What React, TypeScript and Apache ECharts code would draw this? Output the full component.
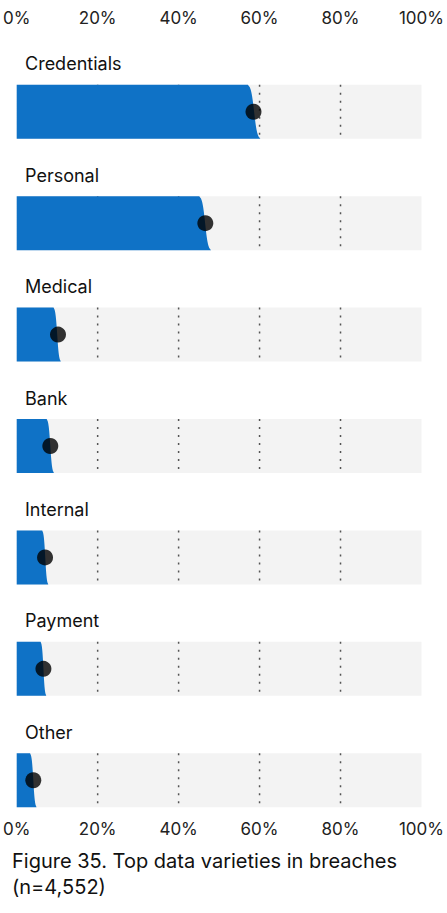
import { useEffect, useRef } from "react";
import * as echarts from "echarts";

const categories = ["Credentials", "Personal", "Medical", "Bank", "Internal", "Payment", "Other"];
const values = [58.5, 46.6, 10.2, 8.3, 7.0, 6.6, 4.1];
const lows = [57.1, 45.1, 9.1, 7.4, 6.3, 5.9, 3.3];
const highs = [60.2, 48.0, 10.9, 9.2, 7.8, 7.3, 4.9];
const gridTicks = [20, 40, 60, 80];

const BLUE = "#0f72c6";
const FONT = "Inter, 'Noto Sans', sans-serif";

// edge profile: quantile-like curve from top (t=0) to bottom (t=1)
const edge = (t: number) => Math.atanh((2 * t - 1) * 0.96) / Math.atanh(0.96);

export default function App() {
  const ref = useRef<HTMLDivElement>(null);

  useEffect(() => {
    document.body.style.margin = "0";
    if (!ref.current) return;
    const chart = echarts.init(ref.current, null, { renderer: "svg" });

    const bandH = 54;
    const renderItem = (params: any, api: any) => {
      const idx = api.value(0);
      const lo = api.value(1);
      const hi = api.value(2);
      const [x0, cy] = api.coord([0, idx]);
      const [x100] = api.coord([100, idx]);
      const top = cy - bandH / 2;
      const bottom = cy + bandH / 2;
      const children: any[] = [
        { type: "rect", shape: { x: x0, y: top, width: x100 - x0, height: bandH }, style: { fill: "#f3f3f3" } },
      ];
      gridTicks.forEach((g) => {
        const [gx] = api.coord([g, idx]);
        children.push({
          type: "line",
          shape: { x1: gx, y1: top, x2: gx, y2: bottom },
          style: { stroke: "#555", lineWidth: 1.5, lineDash: [2, 6] },
        });
      });
      const [xl] = api.coord([lo, idx]);
      const [xh] = api.coord([hi, idx]);
      const pts: number[][] = [[x0, bottom], [x0, top]];
      const n = 24;
      for (let i = 0; i <= n; i++) {
        const t = i / n;
        const x = (xl + xh) / 2 + ((xh - xl) / 2) * edge(t);
        pts.push([x, top + t * bandH]);
      }
      children.push({ type: "polygon", shape: { points: pts }, style: { fill: BLUE } });
      children.push({
        type: "text",
        x: 25,
        y: top - 21,
        style: { text: categories[idx], fill: "#111", font: `18px ${FONT}`, verticalAlign: "middle" },
      });
      return { type: "group", children };
    };

    const option: echarts.EChartsOption = {
      animation: false,
      grid: { left: 13, right: 24, top: 56, height: 780 },
      xAxis: [
        {
          type: "value", position: "top", min: 0, max: 100, interval: 20,
          axisLabel: { formatter: "{value}%", fontSize: 17, color: "#222", fontFamily: FONT, margin: 30 },
          axisLine: { show: false }, axisTick: { show: false }, splitLine: { show: false },
        },
        {
          type: "value", position: "bottom", min: 0, max: 100, interval: 20,
          axisLabel: { formatter: "{value}%", fontSize: 17, color: "#222", fontFamily: FONT, margin: -16 },
          axisLine: { show: false }, axisTick: { show: false }, splitLine: { show: false },
        },
      ],
      yAxis: { type: "category", data: categories, inverse: true, show: false },
      graphic: [
        {
          type: "text", left: 12, top: 848,
          style: { text: "Figure 35. Top data varieties in breaches\n(n=4,552)", fill: "#111", font: `20px ${FONT}`, lineHeight: 26 },
        },
      ],
      series: [
        {
          type: "custom",
          renderItem,
          data: categories.map((_, i) => [i, lows[i], highs[i]]),
          encode: { y: 0, x: [1, 2] },
        },
        {
          type: "scatter",
          data: values.map((v, i) => [v, i]),
          symbolSize: 16,
          itemStyle: { color: "#000" },
          z: 5,
        },
      ],
    };
    chart.setOption(option);
    return () => chart.dispose();
  }, []);

  return <div ref={ref} style={{ width: 447, height: 913 }} />;
}
